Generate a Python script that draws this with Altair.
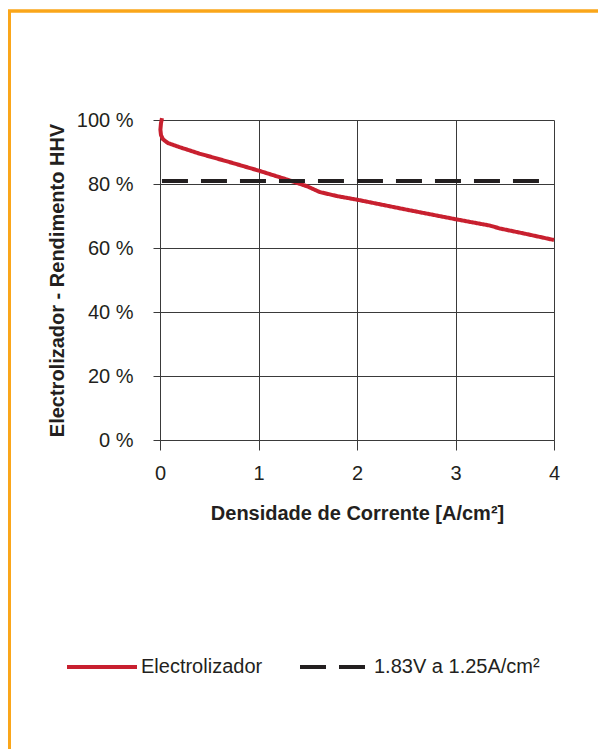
import altair as alt
import pandas as pd

# Data
curve_x = [0.02, 0.01, 0.004, 0.01, 0.03, 0.08, 0.2, 0.4, 0.7, 1.0, 1.3, 1.5, 1.62, 1.8, 2.0, 2.5, 3.0, 3.35, 3.45, 3.7, 4.0]
curve_y = [100.6, 99.0, 97.0, 95.3, 94.0, 92.8, 91.5, 89.5, 86.9, 84.2, 81.3, 79.2, 77.5, 76.2, 75.1, 72.0, 69.0, 67.0, 66.1, 64.5, 62.5]
ref_x = [0.02, 3.93]
ref_y = [80.9, 80.9]
series_names = ["Electrolizador", "1.83V a 1.25A/cm²"]
x_ticks = [0, 1, 2, 3, 4]
y_ticks = [0, 20, 40, 60, 80, 100]

rows = []
for i, (x, y) in enumerate(zip(curve_x, curve_y)):
    rows.append({"x": x, "y": y, "s": series_names[0], "o": i})
for i, (x, y) in enumerate(zip(ref_x, ref_y)):
    rows.append({"x": x, "y": y, "s": series_names[1], "o": i})
df = pd.DataFrame(rows)

FONT = "Liberation Sans"
TXT = "#231f20"
GRID = "#3a3a3a"
ORANGE = "#FAA61A"

lines = alt.Chart(df).mark_line(strokeWidth=4, clip=False).encode(
    x=alt.X("x:Q", scale=alt.Scale(domain=[0, 4], nice=False),
            axis=alt.Axis(values=x_ticks, title="Densidade de Corrente [A/cm²]",
                          tickSize=10, labelPadding=13, titlePadding=20, labelFlush=False,
                          labelFontSize=20, titleFontSize=20, format="d")),
    y=alt.Y("y:Q", scale=alt.Scale(domain=[0, 100], nice=False),
            axis=alt.Axis(values=y_ticks, title="Electrolizador - Rendimento HHV",
                          tickSize=7, labelPadding=20, titlePadding=9,
                          labelFontSize=20, titleFontSize=20,
                          labelExpr="datum.value + ' %'")),
    color=alt.Color("s:N", scale=alt.Scale(domain=series_names, range=["#C8202F", TXT]),
                    legend=alt.Legend(title=None, orient="none", legendX=-95, legendY=510,
                                      direction="horizontal", symbolType="stroke",
                                      symbolSize=4900, symbolStrokeWidth=4,
                                      labelFontSize=20, labelOffset=2, columnPadding=29,
                                      labelLimit=400,
                                      labelColor=TXT, labelFont=FONT, padding=0)),
    strokeDash=alt.StrokeDash("s:N", scale=alt.Scale(domain=series_names, range=[[1, 0], [26, 13]]),
                              legend=None),
    order="o:Q",
)

border_top = alt.Chart(pd.DataFrame({"a": [0]})).mark_rule(color=ORANGE, strokeWidth=3.5).encode(
    x=alt.value(-152), x2=alt.value(440), y=alt.value(-109)
)
border_left = alt.Chart(pd.DataFrame({"a": [0]})).mark_rule(color=ORANGE, strokeWidth=3).encode(
    x=alt.value(-150.5), y=alt.value(-110), y2=alt.value(630)
)

chart = alt.layer(lines, border_top, border_left).properties(
    width=394, height=320,
    autosize=alt.AutoSizeParams(type="none"),
    padding={"left": 160, "top": 120, "right": 44, "bottom": 309},
    background="white",
).configure_axis(
    grid=True, gridColor=GRID, gridOpacity=1, gridWidth=1,
    domainColor=GRID, tickColor=GRID, tickWidth=1, domainWidth=1,
    labelColor=TXT, titleColor=TXT, labelFont=FONT, titleFont=FONT,
    titleFontWeight="bold",
).configure_view(stroke=None).configure_legend(labelFont=FONT)

chart.save("out.html", embed_options={"renderer": "svg", "actions": False})
